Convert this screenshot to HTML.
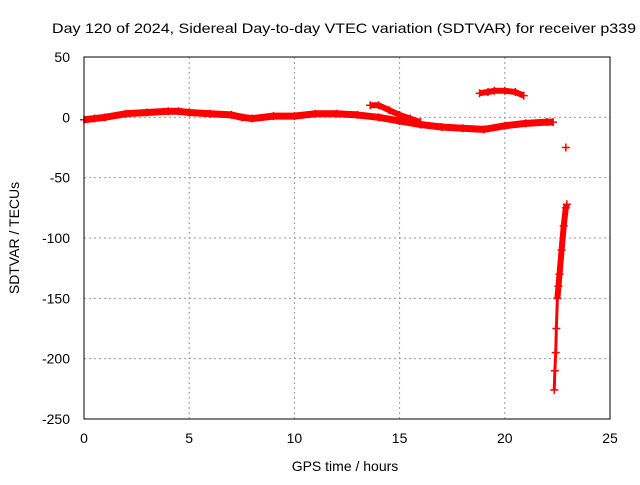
<!DOCTYPE html>
<html><head><meta charset="utf-8"><style>
body{margin:0;background:#fff}
svg text{font-family:"Liberation Sans",sans-serif;font-size:14px;fill:#000}
</style></head><body>
<svg id="c" width="640" height="480">
<text x="52" y="33" textLength="584" lengthAdjust="spacingAndGlyphs">Day 120 of 2024, Sidereal Day-to-day VTEC variation (SDTVAR) for receiver p339</text>
<text x="345" y="471" text-anchor="middle">GPS time / hours</text>
<text transform="translate(19,238) rotate(-90)" text-anchor="middle">SDTVAR / TECUs</text>
<g id="grid"></g><g id="marks"></g>
<rect x="84" y="57" width="526" height="362" fill="none" stroke="#000"/>
</svg>
<script>
const xTicks=[0,5,10,15,20,25];
const yTicks=[50,0,-50,-100,-150,-200,-250];
const mainT=[0,0.5,1,2,3,4,4.5,5,6,7,7.5,8,9,10,11,12,13,14,15,16,17,18,19,20,21,22,22.3];
const mainV=[-2,-1,0,3,4,5,5,4,3,2,0,-1,1,1,3,3,2,0,-3,-6,-8,-9,-10,-7,-5,-4,-4];
const upT=[13.6,14,14.5,15,15.5,16];
const upV=[10,10,6,2,-1,-4];
const arcT=[18.8,19.2,19.5,20,20.5,20.9];
const arcV=[20,21,22,22,21,18];
const spikeLowT=[22.35,22.38,22.42,22.45,22.5];
const spikeLowV=[-226,-210,-195,-175,-150];
const spikeHighT=[22.5,22.55,22.6,22.7,22.8,22.9,22.95];
const spikeHighV=[-150,-140,-130,-110,-90,-75,-72];
const lone={t:22.9,v:-25};
const X=t=>84+t*526/25, Y=v=>57+(50-v)*362/300;
const ns="http://www.w3.org/2000/svg";
const grid=document.getElementById('grid'), marks=document.getElementById('marks'), svg=document.getElementById('c');
function mk(tag,attrs,parent){const e=document.createElementNS(ns,tag);for(const k in attrs)e.setAttribute(k,attrs[k]);parent.appendChild(e);return e;}
xTicks.forEach(t=>{
 if(t>0&&t<25){const l=mk('line',{x1:X(t),x2:X(t),y1:57,y2:419,stroke:'#999','stroke-dasharray':'2,3'},grid);
 
 }
 const tx=mk('text',{x:X(t),y:443,'text-anchor':'middle'},svg);tx.textContent=t;
 
 
});
yTicks.forEach(v=>{
 if(v<50&&v>-250){const l=mk('line',{x1:84,x2:610,y1:Y(v),y2:Y(v),stroke:'#999','stroke-dasharray':'2,3'},grid);
 
 }
 const tx=mk('text',{x:70,y:Y(v)+5,'text-anchor':'end'},svg);tx.textContent=v;
 
 
});
function series(T,V,name,w){
 const g=mk('g',{},marks);
 
 
 mk('polyline',{points:T.map((t,i)=>X(t)+','+Y(V[i])).join(' '),fill:'none',stroke:'#f00','stroke-width':w,'stroke-linejoin':'round'},g);
 T.forEach((t,i)=>{const p=mk('path',{d:`M${X(t)-4},${Y(V[i])}h8M${X(t)},${Y(V[i])-4}v8`,stroke:'#f00','stroke-width':1.5},g);
 
 });
}
series(mainT,mainV,'main-series',7);
series(upT,upV,'upper-branch-series',6);
series(arcT,arcV,'arc-series',6);
series(spikeLowT,spikeLowV,'spike-lower-series',3);
series(spikeHighT,spikeHighV,'spike-upper-series',6);
series([lone.t],[lone.v],'lone-point',2);
</script>
</body></html>
